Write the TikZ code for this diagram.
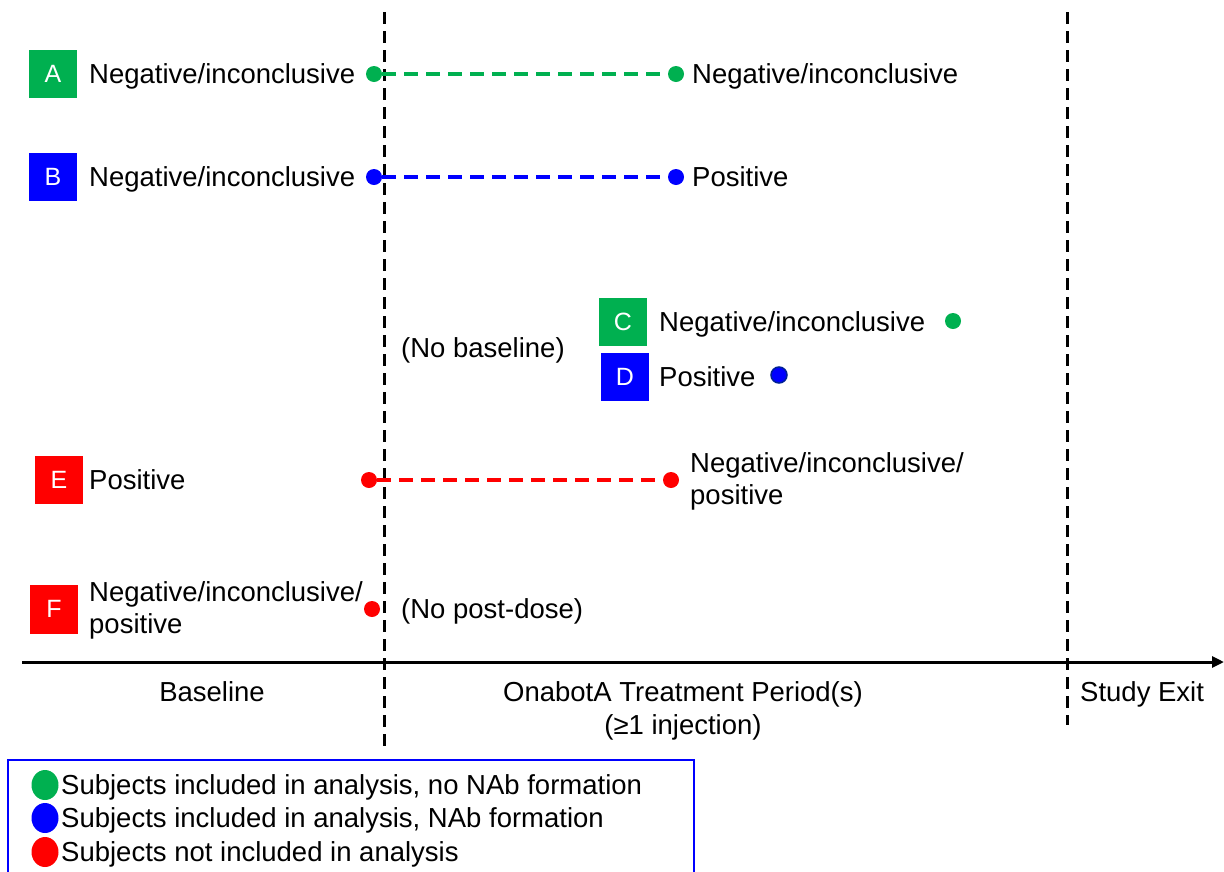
\documentclass[tikz,border=0pt]{standalone}
\usepackage{fontspec}
\setmainfont{Liberation Sans}
\usetikzlibrary{arrows.meta,shapes.geometric}
\newlength{\du}
\setlength{\du}{1pt}
\definecolor{groupgreen}{RGB}{0,176,80}
\definecolor{groupblue}{RGB}{0,0,255}
\definecolor{groupred}{RGB}{255,0,0}
\definecolor{dotnavy}{RGB}{0,32,150}
\tikzset{
  txt/.style={inner sep=0pt, anchor=west, align=left,
    font=\fontsize{27.5\du}{32\du}\selectfont},
  oneline/.style={txt, text height=19.7\du, text depth=0\du},
  letterbox/.style={fill=#1, text=white, inner sep=0pt,
    minimum width=48\du, minimum height=48\du,
    font=\fontsize{25\du}{30\du}\selectfont},
  dot/.style={circle, fill=#1, inner sep=0pt, minimum size=16\du},
  legdot/.style={ellipse, fill=#1, inner sep=0pt, minimum width=27\du, minimum height=30\du},
  track/.style={draw=#1, line width=4.5\du, dash pattern=on 14\du off 8\du},
  phase/.style={draw=black, line width=3\du, dash pattern=on 12\du off 7\du},
}
\begin{document}
\begin{tikzpicture}
\pgftransformxscale{1.000000}
\pgftransformyscale{-1.000000}
\useasboundingbox (0\du,0\du) rectangle (1224\du,871\du);
% phase boundaries
\coordinate (basetop) at (384\du,12\du);
\coordinate (basebot) at (384\du,750\du);
\coordinate (exittop) at (1067\du,12\du);
\coordinate (exitbot) at (1067\du,725\du);
\draw[phase] (basetop)--(basebot);
\draw[phase] (exittop)--(exitbot);
% time axis
\coordinate (axisstart) at (22\du,662\du);
\coordinate (axisend) at (1224\du,662\du);
\draw[line width=3\du, -{Triangle[length=12pt,width=11pt]}] (axisstart)--(axisend);
\node[oneline, anchor=center] (baselinelbl) at (212\du,692\du){Baseline};
\node[txt, anchor=center, align=center, font=\fontsize{27.5\du}{33\du}\selectfont] (periodlbl) at (683\du,711\du){OnabotA Treatment Period(s)\\(≥1 injection)};
\node[oneline] (exitlbl) at (1080\du,692\du){Study Exit};
% group A
\node[letterbox=groupgreen] (boxa) at (53\du,74\du){A};
\node[oneline] (abase) at (89\du,74\du){Negative/inconclusive};
\node[dot=groupgreen] (adot1) at (374\du,74\du){};
\node[dot=groupgreen] (adot2) at (676\du,74\du){};
\node[oneline] (apost) at (692\du,74\du){Negative/inconclusive};
\draw[track=groupgreen] (adot1)--(adot2);
% group B
\node[letterbox=groupblue] (boxb) at (53\du,177\du){B};
\node[oneline] (bbase) at (89\du,177\du){Negative/inconclusive};
\node[dot=groupblue] (bdot1) at (374\du,177\du){};
\node[dot=groupblue] (bdot2) at (676\du,177\du){};
\node[oneline] (bpost) at (692\du,177\du){Positive};
\draw[track=groupblue] (bdot1)--(bdot2);
% groups C and D
\node[oneline] (nobase) at (401\du,348\du){(No baseline)};
\node[letterbox=groupgreen] (boxc) at (623\du,322\du){C};
\node[oneline] (cpost) at (659\du,322\du){Negative/inconclusive};
\node[dot=groupgreen] (cdot) at (953\du,321\du){};
\node[letterbox=groupblue] (boxd) at (625\du,377\du){D};
\node[oneline] (dpost) at (659\du,377\du){Positive};
\node[dot=groupblue, draw=dotnavy, line width=1.5\du] (ddot) at (779\du,375\du){};
% group E
\node[letterbox=groupred] (boxe) at (59\du,480\du){E};
\node[oneline] (ebase) at (89\du,480\du){Positive};
\node[dot=groupred] (edot1) at (369\du,480\du){};
\node[dot=groupred] (edot2) at (671\du,480\du){};
\node[txt] (epost) at (690\du,481\du){Negative/inconclusive/\\positive};
\draw[track=groupred] (edot1)--(edot2);
% group F
\node[letterbox=groupred, minimum height=49\du] (boxf) at (54\du,609\du){F};
\node[txt] (fbase) at (89\du,610\du){Negative/inconclusive/\\positive};
\node[dot=groupred] (fdot) at (372\du,609\du){};
\node[oneline] (nopost) at (401\du,609\du){(No post-dose)};
% legend
\draw[draw=groupblue, line width=1.5\du] (8\du,760\du) rectangle (694\du,880\du);
\node[legdot=groupgreen] (leggreen) at (45\du,785\du){};
\node[oneline] (leggreentxt) at (61\du,785\du){Subjects included in analysis, no NAb formation};
\node[legdot=groupblue] (legblue) at (45\du,818\du){};
\node[oneline] (legbluetxt) at (61\du,818\du){Subjects included in analysis, NAb formation};
\node[legdot=groupred] (legred) at (45\du,852\du){};
\node[oneline] (legredtxt) at (61\du,852\du){Subjects not included in analysis};
\end{tikzpicture}
\end{document}
